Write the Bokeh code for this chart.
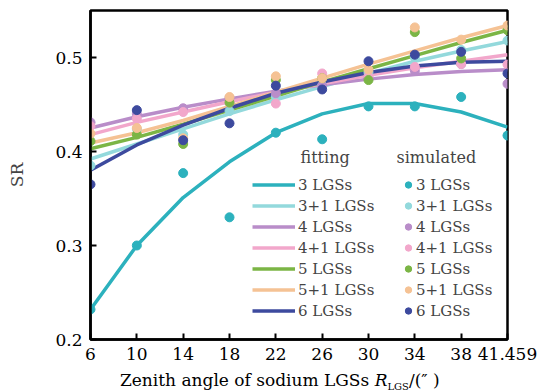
from bokeh.plotting import figure
from bokeh.layouts import column
from bokeh.models import Range1d, FixedTicker, Legend, LegendItem, Label, Div
from bokeh.embed import file_html
from bokeh.resources import INLINE

# ---- data ----
angles = ["6", "10", "14", "18", "22", "26", "30", "34", "38", "41.459"]
series = ["3 LGSs", "3+1 LGSs", "4 LGSs", "4+1 LGSs", "5 LGSs", "5+1 LGSs", "6 LGSs"]
colors = ["#2cb1bd", "#93d9dc", "#b98dc9", "#f2a7cb", "#7bb545", "#f5c294", "#3d4a9e"]

fit_3 = [0.232, 0.300, 0.351, 0.389, 0.420, 0.440, 0.451, 0.451, 0.442, 0.426]
fit_31 = [0.392, 0.408, 0.424, 0.440, 0.455, 0.469, 0.483, 0.496, 0.507, 0.517]
fit_4 = [0.425, 0.437, 0.447, 0.456, 0.464, 0.471, 0.477, 0.482, 0.485, 0.487]
fit_41 = [0.418, 0.431, 0.442, 0.453, 0.463, 0.472, 0.481, 0.489, 0.496, 0.503]
fit_5 = [0.403, 0.415, 0.429, 0.444, 0.459, 0.474, 0.488, 0.502, 0.516, 0.529]
fit_51 = [0.409, 0.420, 0.433, 0.448, 0.463, 0.478, 0.493, 0.507, 0.521, 0.534]
fit_6 = [0.380, 0.407, 0.428, 0.446, 0.462, 0.474, 0.484, 0.491, 0.495, 0.496]

sim_3 = [0.232, 0.300, 0.377, 0.330, 0.420, 0.413, 0.448, 0.448, 0.458, 0.417]
sim_31 = [0.385, 0.424, 0.418, 0.443, 0.458, 0.470, 0.484, 0.500, 0.508, 0.518]
sim_4 = [0.431, 0.440, 0.446, 0.457, 0.462, 0.470, 0.478, 0.486, 0.493, 0.472]
sim_41 = [0.427, 0.435, 0.442, 0.452, 0.451, 0.483, 0.480, 0.490, 0.493, 0.4925]
sim_5 = [0.411, 0.418, 0.408, 0.452, 0.476, 0.478, 0.476, 0.527, 0.499, 0.529]
sim_51 = [0.419, 0.425, 0.414, 0.458, 0.480, 0.478, 0.487, 0.532, 0.519, 0.534]
sim_6 = [0.365, 0.444, 0.412, 0.430, 0.470, 0.466, 0.496, 0.503, 0.506, 0.483]

y_ticks = [0.2, 0.3, 0.4, 0.5]

fits = [fit_3, fit_31, fit_4, fit_41, fit_5, fit_51, fit_6]
sims = [sim_3, sim_31, sim_4, sim_41, sim_5, sim_51, sim_6]
x_idx = list(range(len(angles)))

FONT = "DejaVu Serif"

p = figure(width=540, height=370, output_backend="svg", toolbar_location=None,
           x_range=Range1d(0, len(angles) - 1), y_range=Range1d(0.2, 0.55),
           min_border_left=90, min_border_right=33, min_border_top=10, min_border_bottom=31)
p.grid.visible = False
p.outline_line_color = "black"
p.outline_line_width = 2.5
p.outline_line_alpha = 1
p.background_fill_color = "white"

for ax in (p.xaxis[0], p.yaxis[0]):
    ax.axis_line_width = 2.5
    ax.axis_line_color = "black"
    ax.major_tick_in = 6
    ax.major_tick_out = 0
    ax.major_tick_line_width = 2
    ax.minor_tick_line_color = None
    ax.major_label_text_font = FONT
    ax.major_label_text_font_size = "17px"
    ax.major_label_text_color = "black"
    ax.major_label_standoff = 8

p.xaxis.ticker = FixedTicker(ticks=x_idx)
p.xaxis.major_label_overrides = {i: lab for i, lab in enumerate(angles)}
p.yaxis.ticker = FixedTicker(ticks=y_ticks)
p.yaxis.axis_label = "SR"
p.yaxis.axis_label_text_font = FONT
p.yaxis.axis_label_text_font_style = "normal"
p.yaxis.axis_label_text_font_size = "17px"
p.yaxis.axis_label_standoff = 25

line_items = []
dot_items = []
for name, c, f in zip(series, colors, fits):
    r = p.line(x_idx, f, line_color=c, line_width=3.5)
    line_items.append(LegendItem(label=name, renderers=[r]))
for name, c, s in zip(series, colors, sims):
    r = p.scatter(x_idx, s, size=9, fill_color=c, line_color=c)
    dot_items.append(LegendItem(label=name, renderers=[r]))

common = dict(orientation="vertical", padding=0, margin=0, spacing=0,
              border_line_alpha=0, background_fill_alpha=0,
              label_text_font=FONT, label_text_font_size="15px",
              label_height=21, glyph_height=21)
leg1 = Legend(items=line_items, location=(162, 18), glyph_width=43, label_standoff=3, **common)
leg2 = Legend(items=dot_items, location=(310, 18), glyph_width=16, label_standoff=0, **common)
p.add_layout(leg1)
p.add_layout(leg2)

def px2x(px):
    return (px - 90) / 46.33

def py2y(py):
    return 0.2 + (339 - py) / 940

p.add_layout(Label(x=px2x(300), y=py2y(147), text="fitting", text_font=FONT,
                   text_font_size="16px", text_baseline="top"))
p.add_layout(Label(x=px2x(396), y=py2y(147), text="simulated", text_font=FONT,
                   text_font_size="16px", text_baseline="top"))

# x axis title with mixed styles (italic R, subscript LGS)
xlabel = Div(
    text=('<span style="font-family:\'DejaVu Serif\';font-size:17px;color:black;white-space:nowrap">'
          'Zenith angle of sodium LGSs <i>R</i><sub style="font-size:10px">LGS</sub>/(\u2033 )</span>'),
    width=540, height=22, margin=0,
    styles={"padding-left": "120px", "line-height": "20px", "box-sizing": "border-box"})

layout = column(p, xlabel, spacing=0)
open("out.html", "w").write(file_html(layout, INLINE))
